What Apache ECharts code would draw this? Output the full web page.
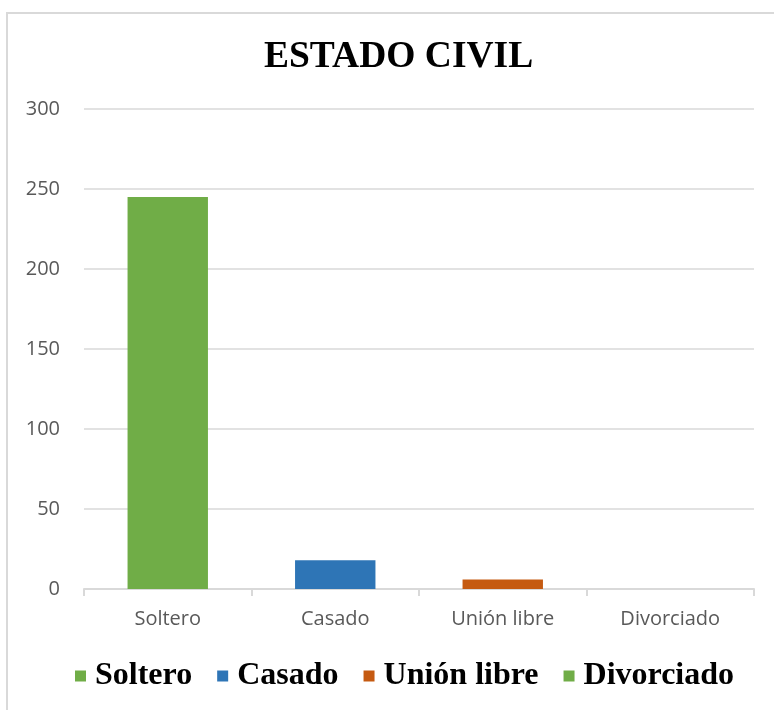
<!DOCTYPE html>
<html>
<head>
<meta charset="utf-8">
<script src="https://cdn.jsdelivr.net/npm/echarts@6/dist/echarts.min.js"></script>
<style>
  html, body { margin: 0; padding: 0; background: #fff; }
  #chart { width: 774px; height: 710px; }
</style>
</head>
<body>
<div id="chart"></div>
<script>
// categorías y valores
const categories = ['Soltero', 'Casado', 'Unión libre', 'Divorciado']
const values = [245, 18, 6, 0]
const colors = ['#70AD47', '#2E75B6', '#C55A11', '#70AD47']
const yTicks = { min: 0, max: 300, interval: 50 }

const chart = echarts.init(document.getElementById('chart'))

// una serie por categoría para que la leyenda muestre cada una
const series = categories.map((name, i) => ({
  name: name,
  type: 'bar',
  stack: 'total',
  barWidth: '48%',
  data: values.map((v, j) => (j === i ? v : null)),
  itemStyle: { color: colors[i] }
}))

const option = {
  animation: false,
  title: {
    text: 'ESTADO CIVIL',
    left: 259,
    top: 33,
    textStyle: {
      fontFamily: 'Liberation Serif',
      fontWeight: 'bold',
      fontSize: 37.5,
      color: '#000'
    }
  },
  graphic: [
    {
      type: 'rect',
      shape: { x: 7, y: 13, width: 900, height: 900 },
      style: { fill: 'none', stroke: '#d9d9d9', lineWidth: 2 },
      silent: true
    }
  ],
  legend: {
    bottom: 13,
    left: 70,
    itemWidth: 11,
    itemHeight: 11,
    itemGap: 25,
    icon: 'rect',
    textStyle: {
      fontFamily: 'Liberation Serif',
      fontWeight: 'bold',
      fontSize: 32,
      color: '#000',
      padding: [0, 0, 0, 4]
    },
    data: categories
  },
  grid: {
    left: 84,
    right: 20,
    top: 109,
    bottom: 121
  },
  xAxis: {
    type: 'category',
    data: categories,
    axisLine: { lineStyle: { color: '#d9d9d9', width: 2 } },
    axisTick: { show: true, length: 7, lineStyle: { color: '#d9d9d9', width: 2 } },
    axisLabel: {
      fontFamily: 'Open Sans',
      fontSize: 20,
      color: '#595959',
      margin: 20
    }
  },
  yAxis: {
    type: 'value',
    min: yTicks.min,
    max: yTicks.max,
    interval: yTicks.interval,
    axisLine: { show: false },
    axisTick: { show: false },
    splitLine: { lineStyle: { color: '#d9d9d9', width: 1.5 } },
    axisLabel: {
      fontFamily: 'Open Sans',
      fontSize: 20,
      color: '#595959',
      margin: 24
    }
  },
  series: series
}

chart.setOption(option)
</script>
</body>
</html>
